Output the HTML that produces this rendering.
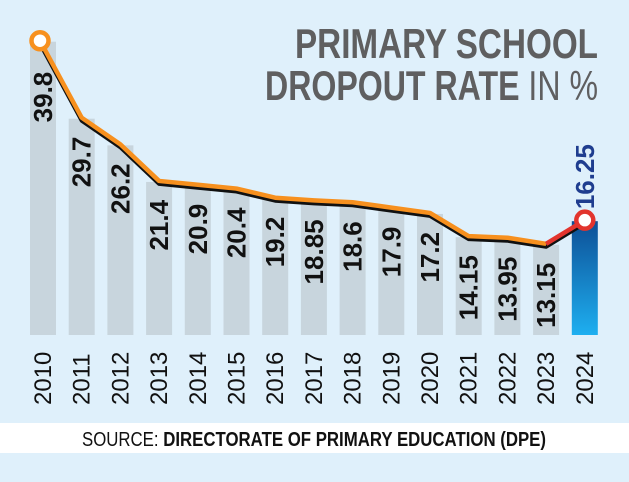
<!DOCTYPE html>
<html><head><meta charset="utf-8"><style>
html,body{margin:0;padding:0;background:#dff0fb;}
svg{display:block;}
</style></head><body>
<svg width="629" height="482" viewBox="0 0 629 482">
<defs>
<linearGradient id="g24" x1="0" y1="0" x2="0" y2="1"><stop offset="0" stop-color="#0d4f96"/><stop offset="1" stop-color="#1eaff0"/></linearGradient>
</defs>
<rect x="0" y="0" width="629" height="482" fill="#dff0fb"/>
<g font-family="'Liberation Sans Narrow','Liberation Sans',sans-serif" font-weight="bold" fill="#5f5f60" font-size="42">
<text x="598" y="58" text-anchor="end" textLength="303" lengthAdjust="spacingAndGlyphs">PRIMARY SCHOOL</text>
<text x="598" y="100" text-anchor="end" textLength="333" lengthAdjust="spacingAndGlyphs">DROPOUT RATE <tspan font-weight="normal">IN %</tspan></text>
</g>
<g id="bars"></g>
<g id="line"></g>
<g id="labels"></g>
<rect x="0" y="423" width="629" height="30" fill="#ffffff"/>
<text x="314" y="446" text-anchor="middle" font-family="'Liberation Sans Narrow','Liberation Sans',sans-serif" font-size="20" fill="#111" textLength="464" lengthAdjust="spacingAndGlyphs">SOURCE: <tspan font-weight="bold">DIRECTORATE OF PRIMARY EDUCATION (DPE)</tspan></text>
</svg>
<script>
const years=['2010','2011','2012','2013','2014','2015','2016','2017','2018','2019','2020','2021','2022','2023','2024'];
const rates=[39.8,29.7,26.2,21.4,20.9,20.4,19.2,18.85,18.6,17.9,17.2,14.15,13.95,13.15,16.25];
const valueLabels=['39.8','29.7','26.2','21.4','20.9','20.4','19.2','18.85','18.6','17.9','17.2','14.15','13.95','13.15','16.25'];
const NS='http://www.w3.org/2000/svg';
function xs(i){return 30+i*38.7;}
function ys(v){return 345-7.62*v;}
const BW=26,BASE=335,n=years.length;
function mk(t,a,p){const e=document.createElementNS(NS,t);for(const k in a)e.setAttribute(k,a[k]);p.appendChild(e);return e;}
const gb=document.getElementById('bars'),gl=document.getElementById('line'),gt=document.getElementById('labels');
for(let i=0;i<n;i++){
 const last=i===n-1;
 const r=mk('rect',{x:xs(i),y:ys(rates[i]),width:BW,height:BASE-ys(rates[i]),fill:last?'url(#g24)':'#c8d5dd'},gb);
 
 
 const cx=xs(i)+BW/2;
 const yl=mk('text',{transform:`translate(${cx+8},405) rotate(-90)`,'font-family':"'Liberation Sans Narrow','Liberation Sans',sans-serif",'font-size':'24',fill:'#111'},gt);
 yl.textContent=years[i];
 
 
 const vy=last?ys(rates[i])-12:ys(rates[i])+(i===0?30:18);
 const vl=mk('text',{transform:`translate(${cx+9},${vy}) rotate(-90)`,'text-anchor':last?'start':'end','font-family':"'Liberation Sans','Liberation Sans Narrow',sans-serif",'font-weight':'bold','font-size':'26',fill:last?'#1f3d8f':'#111'},gt);
 vl.textContent=valueLabels[i];
 
 
}
function pts(a,b,dy){let s=[];for(let i=a;i<=b;i++)s.push((xs(i)+BW/2+(i===0?-3:0))+','+(ys(rates[i])+dy));return s.join(' ');}
let sh=mk('polyline',{points:pts(0,n-1,2),fill:'none',stroke:'#111','stroke-width':4,'stroke-linejoin':'round'},gl);


let ln=mk('polyline',{points:pts(0,n-2,-1),fill:'none',stroke:'#f7901e','stroke-width':4.5,'stroke-linejoin':'round'},gl);


let ln2=mk('polyline',{points:pts(n-2,n-1,-1),fill:'none',stroke:'#e2342d','stroke-width':4.5},gl);


let c1=mk('circle',{cx:xs(0)+BW/2-3,cy:ys(rates[0])-1,r:8.5,fill:'#fff',stroke:'#f7901e','stroke-width':4.5},gl);


let c2=mk('circle',{cx:xs(n-1)+BW/2,cy:ys(rates[n-1])-1,r:8.5,fill:'#fff',stroke:'#e2342d','stroke-width':4.5},gl);


</script>
</body></html>
